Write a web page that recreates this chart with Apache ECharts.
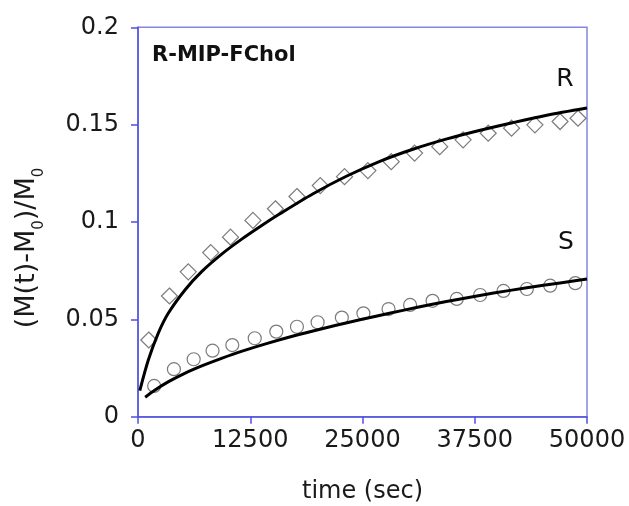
<!DOCTYPE html>
<html>
<head>
<meta charset="utf-8">
<script src="https://cdn.jsdelivr.net/npm/echarts@6/dist/echarts.min.js"></script>
<style>
html,body{margin:0;padding:0;background:#fff;}
#chart{width:629px;height:506px;}
</style>
</head>
<body>
<div id="chart"></div>
<script>
// Measured data (time in sec, (M(t)-M0)/M0)
var timesR = [1200, 3500, 5600, 8100, 10300, 12800, 15300, 17700, 20300, 23000, 25600, 28200, 30800, 33600, 36200, 39000, 41600, 44200, 47000, 49000];
var valuesR = [0.0394, 0.0620, 0.0744, 0.0843, 0.0922, 0.1008, 0.1068, 0.1131, 0.1187, 0.1233, 0.1264, 0.1310, 0.1354, 0.1387, 0.1422, 0.1456, 0.1482, 0.1499, 0.1516, 0.1533];

var timesS = [1800, 4000, 6200, 8300, 10500, 13000, 15400, 17700, 20000, 22700, 25100, 27900, 30300, 32800, 35500, 38100, 40700, 43300, 45900, 48700];
var valuesS = [0.0158, 0.0244, 0.0295, 0.0339, 0.0368, 0.0403, 0.0437, 0.0462, 0.0485, 0.0509, 0.0531, 0.0553, 0.0574, 0.0595, 0.0605, 0.0625, 0.0646, 0.0656, 0.0673, 0.0686];

// Fitted curves
var fitTimesR = [200, 1150, 2260, 3370, 5230, 7090, 9320, 11550, 13780, 15800, 19500, 23200, 27000, 30700, 34400, 38000, 41700, 45400, 50000];
var fitR = [0.0134, 0.0291, 0.0429, 0.0531, 0.0651, 0.0745, 0.0835, 0.0912, 0.0982, 0.1042, 0.1145, 0.1235, 0.1313, 0.1375, 0.1427, 0.1470, 0.1510, 0.1547, 0.1585];

var fitTimesS = [800, 1900, 3400, 5200, 7100, 9300, 11600, 14500, 17500, 20500, 23400, 26500, 29500, 32500, 35900, 39600, 43300, 47000, 50000];
var fitS = [0.0100, 0.0137, 0.0180, 0.0223, 0.0261, 0.0300, 0.0337, 0.0378, 0.0417, 0.0452, 0.0484, 0.0516, 0.0546, 0.0575, 0.0605, 0.0635, 0.0662, 0.0687, 0.0707];

var xTicks = [0, 12500, 25000, 37500, 50000];
var yTicks = [0, 0.05, 0.1, 0.15, 0.2];

var chartTitle = 'R-MIP-FChol';
var xTitle = 'time (sec)';
var labelR = 'R';
var labelS = 'S';

function pairs(xs, ys) { return xs.map(function (x, i) { return [x, ys[i]]; }); }

var chart = echarts.init(document.getElementById('chart'));
var FONT = 'DejaVu Sans';
var AXIS_BLUE = '#5050e0';
var FRAME_BLUE = '#8585e3';

chart.setOption({
  backgroundColor: '#fff',
  animation: false,
  grid: { left: 138, right: 42, top: 27.3, bottom: 89.3, show: true, borderColor: FRAME_BLUE, borderWidth: 1.5, backgroundColor: 'transparent' },
  xAxis: {
    type: 'value', min: xTicks[0], max: xTicks[xTicks.length - 1], interval: xTicks[1] - xTicks[0],
    axisLine: { show: true, lineStyle: { color: AXIS_BLUE, width: 1.5 } },
    axisTick: { show: true, inside: false, length: 7, lineStyle: { color: AXIS_BLUE, width: 1.5 } },
    axisLabel: { fontFamily: FONT, fontSize: 24, color: '#1a1a1a', margin: 12, formatter: function (v) { return String(v); } },
    splitLine: { show: false }
  },
  yAxis: {
    type: 'value', min: yTicks[0], max: yTicks[yTicks.length - 1], interval: yTicks[1] - yTicks[0],
    axisLine: { show: true, lineStyle: { color: AXIS_BLUE, width: 1.5 } },
    axisTick: { show: true, inside: false, length: 7, lineStyle: { color: AXIS_BLUE, width: 1.5 } },
    axisLabel: { fontFamily: FONT, fontSize: 24, color: '#1a1a1a', margin: 19, formatter: function (v) { return String(Math.round(v * 100) / 100); } },
    splitLine: { show: false }
  },
  series: [
    {
      name: 'R data', type: 'scatter', data: pairs(timesR, valuesR),
      symbol: 'diamond', symbolSize: 16,
      itemStyle: { color: 'rgba(0,0,0,0)', borderColor: '#5a5a5a', borderWidth: 1.2 },
      z: 2
    },
    {
      name: 'S data', type: 'scatter', data: pairs(timesS, valuesS),
      symbol: 'circle', symbolSize: 13,
      itemStyle: { color: 'rgba(0,0,0,0)', borderColor: '#5a5a5a', borderWidth: 1.2 },
      z: 2
    },
    {
      name: 'R fit', type: 'line', data: pairs(fitTimesR, fitR), smooth: 0.3,
      showSymbol: false, lineStyle: { color: '#000', width: 3 }, z: 3
    },
    {
      name: 'S fit', type: 'line', data: pairs(fitTimesS, fitS), smooth: 0.3,
      showSymbol: false, lineStyle: { color: '#000', width: 3 }, z: 3
    }
  ],
  graphic: [
    { type: 'text', left: 152, top: 45, style: { text: chartTitle, font: 'bold 21px "DejaVu Sans"', fill: '#111' } },
    { type: 'text', x: 565, y: 79, style: { text: labelR, font: '25px "DejaVu Sans"', fill: '#111', align: 'center', verticalAlign: 'middle' } },
    { type: 'text', x: 566, y: 242, style: { text: labelS, font: '25px "DejaVu Sans"', fill: '#111', align: 'center', verticalAlign: 'middle' } },
    { type: 'text', x: 362.5, y: 492, style: { text: xTitle, font: '24px "DejaVu Sans"', fill: '#1a1a1a', align: 'center', verticalAlign: 'middle' } },
    {
      type: 'text', x: 27, y: 248, rotation: Math.PI / 2,
      style: {
        text: '{m|(M(t)-M}{s|0}{m|)/M}{s|0}',
        align: 'center', verticalAlign: 'middle', fill: '#1a1a1a',
        rich: {
          m: { fontFamily: FONT, fontSize: 27, lineHeight: 40, verticalAlign: 'middle', fill: '#1a1a1a' },
          s: { fontFamily: FONT, fontSize: 15, lineHeight: 14, verticalAlign: 'bottom', fill: '#1a1a1a' }
        }
      }
    }
  ]
});
</script>
</body>
</html>
